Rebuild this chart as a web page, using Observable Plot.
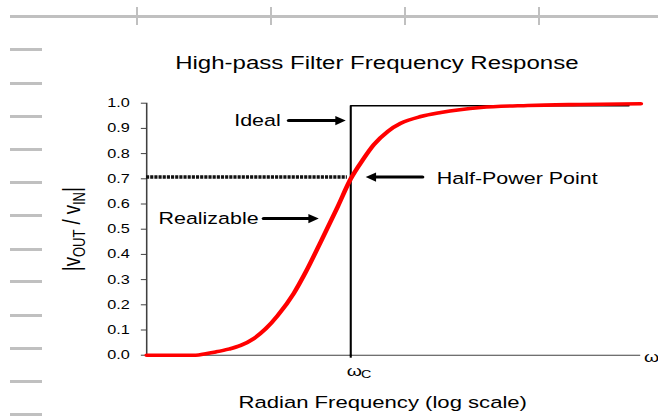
<!DOCTYPE html>
<html><head><meta charset="utf-8">
<script src="https://cdn.jsdelivr.net/npm/d3@7"></script>
<script src="https://cdn.jsdelivr.net/npm/@observablehq/plot@0.6"></script>
<style>
body{margin:0;background:#fff;}
#wrap{position:relative;width:658px;height:416px;overflow:hidden;font-family:"Liberation Sans",Arial,sans-serif;}
.deco{position:absolute;background:#c0c0c0;}
#chart{position:absolute;left:0;top:0;}
</style></head><body><div id="wrap"><div id="chart"></div></div>
<script>
// ---- data ----
const xDomain = [0.01, 697];              // omega / omega_c (log scale)
const omegaRatio = [0.01, 0.0302, 0.0379, 0.0475, 0.0634, 0.0835, 0.112, 0.147, 0.192, 0.276, 0.362, 0.508, 0.746, 1, 1.311, 1.68, 2.306, 3.09, 4.85, 7.63, 18.8, 54.4, 180, 697];
const realizable = [0, 0, 0.006, 0.013, 0.024, 0.039, 0.066, 0.105, 0.157, 0.245, 0.33, 0.45, 0.59, 0.70, 0.775, 0.835, 0.888, 0.92, 0.947, 0.963, 0.983, 0.991, 0.995, 0.998];
const idealX = [1, 1, 531];
const idealY = [0, 0.99, 0.99];
const halfPower = 0.707;
const halfPowerEnd = 0.93;
const yTicks = [0, 0.1, 0.2, 0.3, 0.4, 0.5, 0.6, 0.7, 0.8, 0.9, 1.0];
const labels = ["Ideal", "Realizable", "Half-Power Point"];
const labelX = [0.206, 0.125, 6.97];
const labelY = [0.931, 0.542, 0.70];
const labelAnchor = ["end", "end", "start"];
const arrowFrom = [0.247, 0.140, 5.04];
const arrowTo = [0.893, 0.486, 1.40];
const arrowY = [0.931, 0.542, 0.707];
const arrowDir = ["right", "right", "left"];
const title = "High-pass Filter Frequency Response";
const xTitle = "Radian Frequency (log scale)";

// ---- background sheet decorations ----
const wrap = document.getElementById("wrap");
function deco(l, t, w, h) { const d = document.createElement("div"); d.className = "deco"; Object.assign(d.style, {left: l + "px", top: t + "px", width: w + "px", height: h + "px"}); wrap.appendChild(d); }
deco(10, 15, 648, 3);
[136, 270, 404, 538].forEach(x => deco(x, 7, 2, 18));
[49, 83, 116, 149, 182, 215, 249, 281, 315, 348, 381, 414].forEach(y => deco(10, y - 1.5, 32, 3));

// ---- chart ----
const s = 1.3;
const W = 506;
const curve = omegaRatio.map((x, i) => ({x, y: realizable[i]}));
const ideal = idealX.map((x, i) => ({x, y: idealY[i]}));
const ann = labels.map((t, i) => ({t, x: labelX[i], y: labelY[i], anchor: labelAnchor[i], x1: arrowFrom[i], x2: arrowTo[i], ay: arrowY[i], dir: arrowDir[i]}));
const L = 8, H = 4.6;
const headRight = {draw(c) { c.moveTo(0, 0); c.lineTo(-L, -H); c.lineTo(-L, H); c.closePath(); }};
const headLeft = {draw(c) { c.moveTo(0, 0); c.lineTo(L, -H); c.lineTo(L, H); c.closePath(); }};
const font = '"Liberation Sans", Arial, sans-serif';

const svg = Plot.plot({
  width: W, height: 416,
  marginLeft: 146 / s, marginRight: W - 640 / s, marginTop: 102.7, marginBottom: 416 - 354.7,
  style: {background: "transparent", overflow: "visible", fontFamily: font, fontSize: "12.5px", color: "#000"},
  x: {type: "log", domain: xDomain, axis: null},
  y: {domain: [0, 1], axis: null},
  marks: [
    Plot.axisY({ticks: yTicks, tickFormat: d3.format(".1f"), tickSize: 4, tickPadding: 9, stroke: "#404040", fontSize: 12.5, label: null}),
    Plot.ruleX([xDomain[0]], {stroke: "#404040", strokeWidth: 1.2}),
    Plot.ruleY([0], {stroke: "#404040", strokeWidth: 1}),
    Plot.axisX({ticks: [1], tickSize: 3, tickFormat: () => "", stroke: "#000", strokeWidth: 1.6, label: null}),
    Plot.ruleY([halfPower], {x1: xDomain[0], x2: halfPowerEnd, stroke: "#111", strokeWidth: 3.5, strokeDasharray: "2.4,0.8"}),
    Plot.line(ideal, {x: "x", y: "y", stroke: "#000", strokeWidth: 1.6}),
    Plot.line(curve, {x: "x", y: "y", stroke: "#ff0000", strokeWidth: 3.6, curve: "monotone-x"}),
    Plot.arrow(ann, {x1: "x1", x2: "x2", y1: "ay", y2: "ay", headLength: 0, insetEnd: 5, stroke: "#000", strokeWidth: 3}),
    Plot.dot(ann.filter(d => d.dir === "right"), {x: "x2", y: "ay", symbol: headRight, r: 4, fill: "#000", stroke: null}),
    Plot.dot(ann.filter(d => d.dir === "left"), {x: "x2", y: "ay", symbol: headLeft, r: 4, fill: "#000", stroke: null}),
    Plot.text(ann.filter(d => d.anchor === "end"), {x: "x", y: "y", text: "t", textAnchor: "end", fontSize: 16.5, fill: "#000"}),
    Plot.text(ann.filter(d => d.anchor === "start"), {x: "x", y: "y", text: "t", textAnchor: "start", fontSize: 16.5, fill: "#000"}),
    Plot.text([title], {text: d => d, frameAnchor: "top", dy: -47.5, dx: -13, fontSize: 18.5, fill: "#000"}),
    Plot.text([xTitle], {text: d => d, frameAnchor: "bottom", dy: 53, dx: -8.5, fontSize: 17, fill: "#000"}),
    Plot.text(["ω"], {text: d => d, x: [1], y: [0], dx: 2.7, dy: 16, fontSize: 15, fill: "#000"}),
    Plot.text(["C"], {text: d => d, x: [1], y: [0], dx: 11.9, dy: 19.5, fontSize: 11, fill: "#000"}),
    Plot.text(["ω"], {text: d => d, x: [xDomain[1]], y: [0], dx: 2.5, dy: 2, textAnchor: "start", fontSize: 15, fill: "#000"}),
    Plot.text(["|vOUT / vIN|"], {text: d => d, frameAnchor: "left", textAnchor: "middle", lineAnchor: "middle", dx: -57, rotate: -90, fontSize: 18.5, fill: "#000", className: "ylab"})
  ]
});
svg.style.transform = `scaleX(${658 / W})`;
svg.style.transformOrigin = "0 0";
// y-axis label with subscripts
const t = svg.querySelector("g.ylab text");
if (t) {
  t.textContent = "";
  const parts = [["|v", 18.5, 0], ["OUT", 13, 4], [" / v", 18.5, -4], ["IN", 13, 4], ["|", 18.5, -4]];
  for (const [str, fs, dy] of parts) {
    const sp = document.createElementNS("http://www.w3.org/2000/svg", "tspan");
    sp.textContent = str; sp.setAttribute("font-size", fs); if (dy) sp.setAttribute("dy", dy);
    t.appendChild(sp);
  }
}
document.getElementById("chart").appendChild(svg);
</script></body></html>
